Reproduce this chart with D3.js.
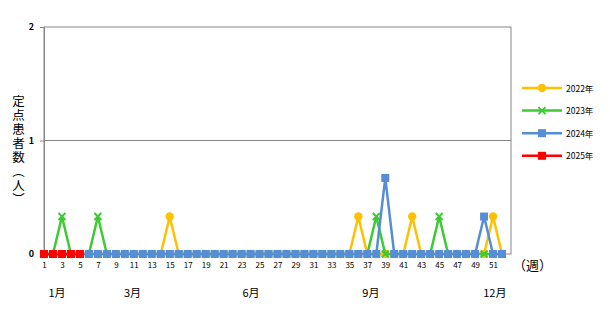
<!DOCTYPE html>
<html>
<head>
<meta charset="utf-8">
<script src="https://cdn.jsdelivr.net/npm/d3@7"></script>
<style>
body { margin: 0; background: #fff; }
text { font-family: "Noto Sans CJK JP", "DejaVu Sans", sans-serif; fill: #000; }
</style>
</head>
<body>
<script>
var w = 610;
var h = 312;

// weeks 1..53 on the axis, data through week 52
var weeks = d3.range(1, 54);
var weekLabels = weeks.filter(function(d) { return d % 2 == 1 && d < 53; });
var yTicks = [0, 1, 2];
var seriesNames = ["2022年", "2023年", "2024年", "2025年"];

var v2022 = [0,0,0,0,0,0,0,0,0,0,0,0,0,0,0.33,0,0,0,0,0,0,0,0,0,0,0,0,0,0,0,0,0,0,0,0,0.33,0,0,0,0,0,0.33,0,0,0,0,0,0,0,0,0.33,0];
var v2023 = [0,0,0.33,0,0,0,0.33,0,0,0,0,0,0,0,0,0,0,0,0,0,0,0,0,0,0,0,0,0,0,0,0,0,0,0,0,0,0,0.33,0,0,0,0,0,0,0.33,0,0,0,0,0,0,0];
var v2024 = [0,0,0,0,0,0,0,0,0,0,0,0,0,0,0,0,0,0,0,0,0,0,0,0,0,0,0,0,0,0,0,0,0,0,0,0,0,0,0.67,0,0,0,0,0,0,0,0,0,0,0.33,0,0];
var v2025 = [0,0,0,0,0];

var months = ["1月", "3月", "6月", "9月", "12月"];
var monthWeeks = [2.45, 10.85, 24.05, 37.4, 51.2];

var colors = ["#FFC000", "#3CCB33", "#558ED5", "#FF0000"];
var shapes = ["circle", "cross", "square", "square"];
var allValues = [v2022, v2023, v2024, v2025];

var plotLeft = 44, plotRight = 511, plotTop = 27, plotBottom = 254;

var x = d3.scaleLinear().domain([1, 53]).range([plotLeft, plotRight]);
var y = d3.scaleLinear().domain([0, 2]).range([plotBottom, plotTop]);

var svg = d3.select("body").append("svg")
	.attr("width", w)
	.attr("height", h);

// plot frame and gridline
svg.append("rect")
	.attr("x", plotLeft).attr("y", plotTop)
	.attr("width", plotRight - plotLeft).attr("height", plotBottom - plotTop)
	.attr("fill", "none").attr("stroke", "#868686").attr("stroke-width", 1);
svg.append("line")
	.attr("x1", plotLeft).attr("x2", plotRight)
	.attr("y1", y(1)).attr("y2", y(1))
	.attr("stroke", "#868686");

// y axis
var yAxis = svg.append("g")
	.attr("transform", "translate(" + plotLeft + ",0)")
	.call(d3.axisLeft(y).tickValues(yTicks).tickSize(4).tickPadding(6).tickFormat(d3.format("d")));
yAxis.select(".domain").attr("stroke", "#868686");
yAxis.selectAll(".tick line").attr("stroke", "#868686");
yAxis.selectAll("text").attr("font-size", "9px").attr("font-weight", "bold");

// x axis labels
var xAxis = svg.append("g")
	.attr("transform", "translate(0," + plotBottom + ")")
	.call(d3.axisBottom(x).tickValues(weekLabels).tickSize(0).tickPadding(8).tickFormat(d3.format("d")));
xAxis.select(".domain").remove();
xAxis.selectAll("text").attr("font-size", "8px");

svg.append("text")
	.attr("x", 513).attr("y", 270)
	.attr("font-size", "13px")
	.text("（週）");

svg.selectAll("text.month")
	.data(months)
	.enter()
	.append("text")
	.attr("class", "month")
	.attr("x", function(d, i) { return x(monthWeeks[i]); })
	.attr("y", 297)
	.attr("text-anchor", "middle")
	.attr("font-size", "11px")
	.text(function(d) { return d; });

// y title, vertical writing
svg.append("text")
	.attr("x", 18.5)
	.attr("y", 95)
	.attr("font-size", "12.5px")
	.style("writing-mode", "vertical-rl")
	.style("text-orientation", "upright")
	.style("letter-spacing", "1.5px")
	.text("定点患者数（人）");

function drawMarker(g, shape, color, cx, cy) {
	if (shape == "circle") {
		g.append("circle").attr("cx", cx).attr("cy", cy).attr("r", 4.2).attr("fill", color);
	} else if (shape == "square") {
		g.append("rect").attr("x", cx - 4).attr("y", cy - 4).attr("width", 8).attr("height", 8).attr("fill", color);
	} else {
		g.append("path")
			.attr("d", "M" + (cx - 3.5) + "," + (cy - 3.5) + "L" + (cx + 3.5) + "," + (cy + 3.5) +
				"M" + (cx - 3.5) + "," + (cy + 3.5) + "L" + (cx + 3.5) + "," + (cy - 3.5))
			.attr("stroke", color).attr("stroke-width", 2);
	}
}

var line = d3.line()
	.x(function(d, i) { return x(i + 1); })
	.y(function(d) { return y(d); });

allValues.forEach(function(vals, k) {
	var g = svg.append("g");
	g.append("path")
		.datum(vals)
		.attr("d", line)
		.attr("fill", "none")
		.attr("stroke", colors[k])
		.attr("stroke-width", 2.5)
		.attr("stroke-linejoin", "round");
	vals.forEach(function(v, i) {
		drawMarker(g, shapes[k], colors[k], x(i + 1), y(v));
	});
});

// legend
var legend = svg.append("g");
seriesNames.forEach(function(name, k) {
	var ly = 88 + k * 22.6;
	legend.append("line")
		.attr("x1", 522).attr("x2", 562)
		.attr("y1", ly).attr("y2", ly)
		.attr("stroke", colors[k]).attr("stroke-width", 2.5);
	drawMarker(legend, shapes[k], colors[k], 542, ly);
	legend.append("text")
		.attr("x", 566).attr("y", ly + 3.5)
		.attr("font-size", "8.5px")
		.text(name);
});
</script>
</body>
</html>
